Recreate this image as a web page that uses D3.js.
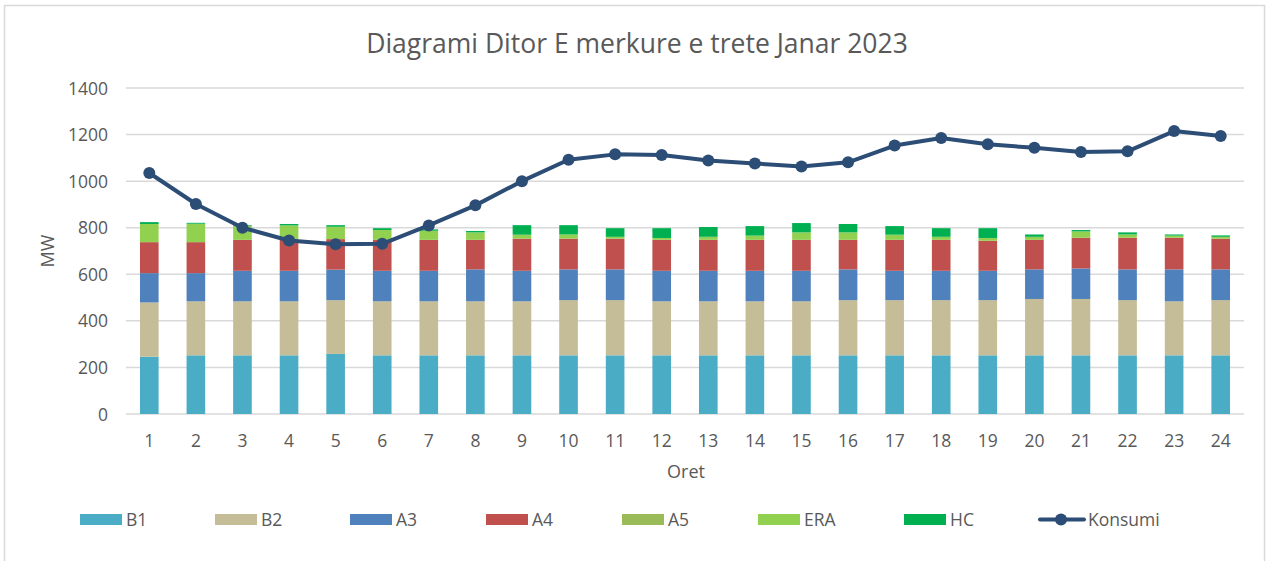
<!DOCTYPE html>
<html>
<head>
<meta charset="utf-8">
<script src="https://cdn.jsdelivr.net/npm/d3@7"></script>
<style>
  html, body { margin: 0; padding: 0; background: #fff; }
  svg { display: block; }
  text { font-family: "Open Sans", "Liberation Sans", sans-serif; fill: #595959; }
</style>
</head>
<body>
<svg id="chart" width="1269" height="561"></svg>
<script>
// Hours of the day
const hours = d3.range(1, 25).map(String);

// Generation by source (MW), stacked
const B1  = [246, 252, 252, 252, 258, 252, 252, 252, 252, 252, 252, 252, 252, 252, 252, 252, 252, 252, 252, 252, 252, 252, 252, 252];
const B2  = [233, 232, 232, 232, 231, 232, 232, 232, 232, 237, 237, 232, 232, 232, 232, 237, 237, 237, 237, 242, 242, 237, 232, 237];
const A3  = [126, 121, 131, 131, 131, 131, 131, 137, 131, 132, 132, 131, 131, 131, 131, 132, 126, 126, 126, 127, 131, 132, 137, 132];
const A4  = [133, 133, 133, 133, 131, 133, 133, 127, 138, 132, 132, 133, 133, 133, 133, 127, 133, 133, 129, 127, 132, 136, 136, 132];
const A5  = [0, 0, 0, 0, 0, 0, 0, 0, 0, 0, 0, 0, 0, 0, 0, 0, 0, 0, 0, 0, 0, 0, 0, 0];
const ERA = [78, 79, 60, 62, 53, 42, 39, 32, 17, 18, 8, 8, 13, 18, 32, 32, 22, 13, 12, 13, 27, 14, 9, 8];
const HC  = [8, 4, 3, 6, 7, 8, 6, 6, 41, 40, 37, 42, 42, 41, 40, 36, 37, 37, 42, 10, 6, 9, 5, 6];

// Consumption (MW)
const Konsumi = [1035, 902, 800, 745, 729, 731, 810, 896, 1000, 1092, 1115, 1112, 1089, 1076, 1063, 1081, 1153, 1185, 1158, 1143, 1125, 1128, 1215, 1194];

// Axis ticks
const yTicks = [0, 200, 400, 600, 800, 1000, 1200, 1400];

const seriesNames = ["B1", "B2", "A3", "A4", "A5", "ERA", "HC"];
const seriesValues = [B1, B2, A3, A4, A5, ERA, HC];
const seriesColors = ["#4BACC6", "#C4BD97", "#4F81BD", "#C0504D", "#9BBB59", "#92D050", "#00B050"];
const lineColor = "#2C4D75";

const svg = d3.select("#chart");

// Chart frame
svg.append("rect")
  .attr("x", 4.5).attr("y", 5.5)
  .attr("width", 1260).attr("height", 570)
  .attr("fill", "#fff").attr("stroke", "#d9d9d9").attr("stroke-width", 1.5);

const x = d3.scaleBand().domain(hours).range([126, 1244]).paddingInner(0.6).paddingOuter(0.3);
const y = d3.scaleLinear().domain([0, 1400]).range([414, 88]);

// Title
svg.append("text")
  .attr("x", 637).attr("y", 53)
  .attr("text-anchor", "middle")
  .style("font-size", "26.5px")
  .text("Diagrami Ditor E merkure e trete Janar 2023");

// Gridlines
svg.append("g")
  .selectAll("line")
  .data(yTicks)
  .join("line")
  .attr("x1", 126).attr("x2", 1244)
  .attr("y1", d => y(d)).attr("y2", d => y(d))
  .attr("stroke", "#d9d9d9").attr("stroke-width", 1.5);

// Y axis labels
const yAxis = d3.axisLeft(y).tickValues(yTicks).tickFormat(d3.format("d")).tickSize(0).tickPadding(0);
const gy = svg.append("g").attr("transform", "translate(108,0)").call(yAxis);
gy.select(".domain").remove();
gy.selectAll("text")
  .style("font-size", "17.5px")
  .style("font-family", "'Open Sans', sans-serif")
  .attr("fill", "#595959")
  .attr("dy", "0.35em");

// X axis labels
const xAxis = d3.axisBottom(x).tickSize(0).tickPadding(0);
const gx = svg.append("g").attr("transform", "translate(0,441)").call(xAxis);
gx.select(".domain").remove();
gx.selectAll("text")
  .style("font-size", "17.5px")
  .style("font-family", "'Open Sans', sans-serif")
  .attr("fill", "#595959")
  .attr("dy", "0.35em");

// Axis titles
svg.append("text")
  .attr("x", 686).attr("y", 472).attr("dy", "0.35em")
  .attr("text-anchor", "middle")
  .style("font-size", "18px")
  .text("Oret");

svg.append("text")
  .attr("transform", "translate(48,251) rotate(-90)")
  .attr("dy", "0.35em")
  .attr("text-anchor", "middle")
  .style("font-size", "18px")
  .text("MW");

// Stacked bars
const rows = hours.map((h, i) => {
  const r = { hour: h };
  seriesNames.forEach((s, k) => { r[s] = seriesValues[k][i]; });
  return r;
});
const stacked = d3.stack().keys(seriesNames)(rows);

svg.append("g")
  .selectAll("g")
  .data(stacked)
  .join("g")
  .attr("fill", (d, k) => seriesColors[k])
  .selectAll("rect")
  .data(d => d)
  .join("rect")
  .attr("x", d => x(d.data.hour))
  .attr("width", x.bandwidth())
  .attr("y", d => y(d[1]))
  .attr("height", d => Math.max(0, y(d[0]) - y(d[1])));

// Consumption line
const cx = (d, i) => x(hours[i]) + x.bandwidth() / 2;
svg.append("path")
  .datum(Konsumi)
  .attr("fill", "none")
  .attr("stroke", lineColor)
  .attr("stroke-width", 4)
  .attr("stroke-linejoin", "round")
  .attr("d", d3.line().x(cx).y(d => y(d)));

svg.append("g")
  .selectAll("circle")
  .data(Konsumi)
  .join("circle")
  .attr("cx", cx)
  .attr("cy", d => y(d))
  .attr("r", 6)
  .attr("fill", lineColor);

// Legend
const legendX = [80, 215, 350, 486, 622, 758, 904];
const legend = svg.append("g");
seriesNames.forEach((s, k) => {
  legend.append("rect")
    .attr("x", legendX[k]).attr("y", 514)
    .attr("width", 42).attr("height", 11)
    .attr("fill", seriesColors[k]);
  legend.append("text")
    .attr("x", legendX[k] + 46).attr("y", 519.5).attr("dy", "0.35em")
    .style("font-size", "17.5px")
    .text(s);
});
legend.append("line")
  .attr("x1", 1040).attr("x2", 1084)
  .attr("y1", 519.5).attr("y2", 519.5)
  .attr("stroke", lineColor).attr("stroke-width", 4).attr("stroke-linecap", "round");
legend.append("circle")
  .attr("cx", 1061).attr("cy", 519.5).attr("r", 6).attr("fill", lineColor);
legend.append("text")
  .attr("x", 1088).attr("y", 519.5).attr("dy", "0.35em")
  .style("font-size", "17.5px")
  .text("Konsumi");
</script>
</body>
</html>
